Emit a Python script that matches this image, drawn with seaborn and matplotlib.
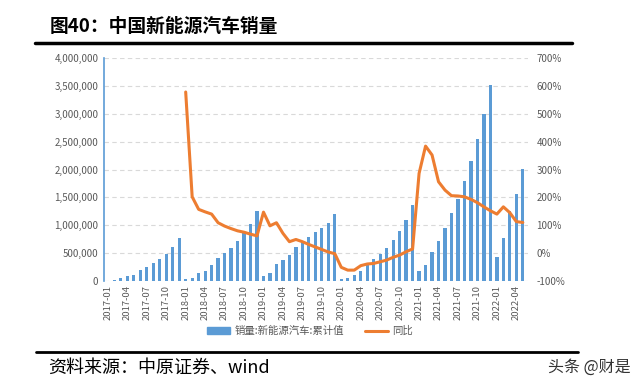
import numpy as np
import pandas as pd
import seaborn as sns
from matplotlib import pyplot as plt
from matplotlib.lines import Line2D
from matplotlib.patches import Patch
from matplotlib.ticker import FuncFormatter, MultipleLocator

sns.set_theme(style="white")
plt.rcParams["font.family"] = ["Noto Sans CJK SC", "DejaVu Sans"]

# Monthly labels 2017-01 .. 2022-05
months = [f"{y}-{m:02d}" for y in range(2017, 2023) for m in range(1, 13)][:65]

# Cumulative NEV sales (vehicles)
sales = [
    6800, 24000, 56000, 88000, 113000, 195000, 249000, 325000, 398000, 490000, 609000, 777000,
    40000, 57000, 143000, 185000, 287000, 412000, 496000, 597000, 721000, 860000, 1030000, 1256000,
    96000, 150000, 299000, 368000, 472000, 617000, 697000, 782000, 872000, 947000, 1043000, 1206000,
    44000, 57000, 114000, 186000, 288000, 393000, 487000, 596000, 734000, 894000, 1094000, 1367000,
    179000, 289000, 515000, 721000, 950000, 1215000, 1478000, 1799000, 2157000, 2540000, 2990000, 3521000,
    431000, 765000, 1257000, 1556000, 2003000,
]

# YoY growth (%), starts 2018-01
yoy = [np.nan] * 12 + [
    578, 202, 157, 148, 140, 109, 97, 88, 80, 75, 68, 62,
    147, 98, 109, 71, 41, 49, 41, 31, 22, 13, 4, -2,
    -51, -61, -61, -45, -39, -37, -31, -25, -15, -7, 5, 15,
    286, 384, 352, 256, 226, 206, 205, 202, 193, 181, 166, 152,
    140, 166, 145, 113, 110,
]

df = pd.DataFrame({"month": months, "sales": sales, "yoy": yoy})
df["idx"] = np.arange(len(df))

bar_c = "#5B9BD5"
line_c = "#ED7D31"
txt_c = "#595959"
grid_c = "#D9D9D9"

fig = plt.figure(figsize=(6.4, 3.85), dpi=100)
ax = fig.add_axes([104 / 640, 1 - 281 / 385, 424 / 640, 223 / 385])

sns.barplot(data=df, x="month", y="sales", color=bar_c, width=0.5,
            saturation=1, order=months, linewidth=0, ax=ax)
ax.set_xlim(-0.6, 64.8)
ax.set_ylim(0, 4000000)
ax.yaxis.set_major_locator(MultipleLocator(500000))
ax.yaxis.set_major_formatter(FuncFormatter(lambda v, p: f"{int(v):,}"))
ax.set_xticks(df["idx"][::3])
ax.set_xticklabels(df["month"][::3], rotation=90)
ax.set_xlabel("")
ax.set_ylabel("")
ax.grid(axis="y", color=grid_c, linestyle=(0, (4, 3)), linewidth=0.8)
ax.set_axisbelow(True)
ax.tick_params(axis="y", labelsize=7, colors=txt_c, length=0, pad=4)
ax.tick_params(axis="x", labelsize=6.8, colors=txt_c, length=0, pad=3)
for s in ["top", "right", "bottom"]:
    ax.spines[s].set_visible(False)
ax.spines["left"].set_color(bar_c)
ax.spines["left"].set_linewidth(1.2)

ax2 = ax.twinx()
sns.lineplot(data=df, x="idx", y="yoy", color=line_c, linewidth=2.2, ax=ax2)
ax2.set_ylim(-100, 700)
ax2.yaxis.set_major_locator(MultipleLocator(100))
ax2.yaxis.set_major_formatter(FuncFormatter(lambda v, p: f"{int(v)}%"))
ax2.set_ylabel("")
ax2.tick_params(axis="y", labelsize=7, colors=txt_c, length=0, pad=6)
for s in ax2.spines.values():
    s.set_visible(False)
ax2.set_xlim(-0.6, 64.8)

# Legend
handles = [Patch(color=bar_c), Line2D([0], [0], color=line_c, lw=2.2)]
fig.legend(handles, ["销量:新能源汽车:累计值", "同比"], loc="center",
           bbox_to_anchor=(310 / 640, 1 - 331 / 385), ncol=2, frameon=False,
           fontsize=7.5, labelcolor=txt_c, handlelength=2.2, handleheight=0.6,
           columnspacing=2.0, handletextpad=0.4)

# Title and source
fig.text(50 / 640, 1 - 26 / 385, "图40：中国新能源汽车销量", fontsize=13.5,
         fontweight="bold", va="center", ha="left", color="black")
fig.add_artist(Line2D([35 / 640, 572 / 640], [1 - 43 / 385] * 2, color="black", lw=2.5))
fig.add_artist(Line2D([36 / 640, 578 / 640], [1 - 352 / 385] * 2, color="black", lw=2))
fig.text(48 / 640, 1 - 368 / 385, "资料来源：中原证券、wind", fontsize=13,
         va="center", ha="left", color="black")
fig.text(631 / 640, 1 - 367 / 385, "头条 @财是", fontsize=11.5,
         va="center", ha="right", color="#333333")

fig.savefig("out.png", dpi=100)
